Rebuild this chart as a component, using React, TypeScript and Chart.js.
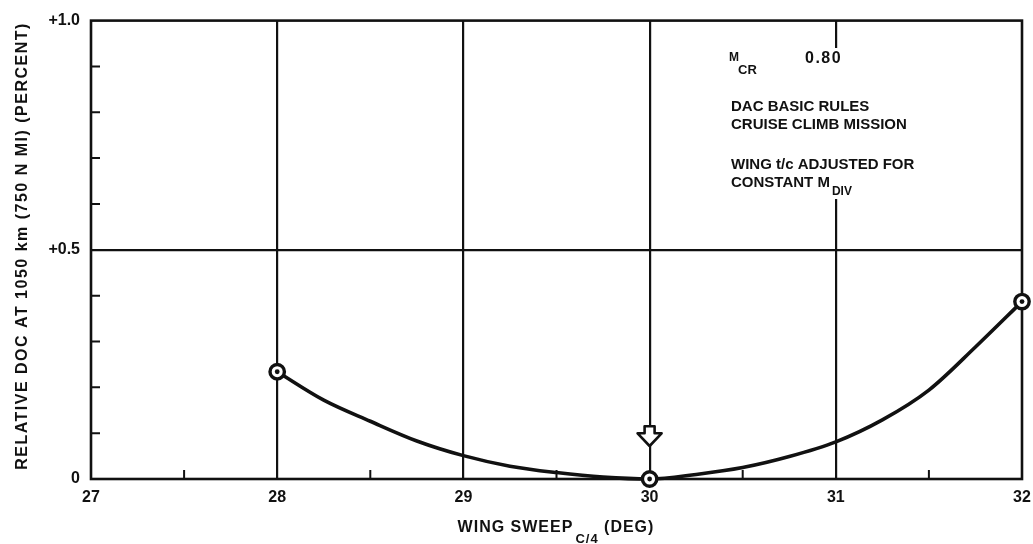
import React, { useEffect, useRef } from "react";
import { Chart, registerables } from "chart.js";

Chart.register(...registerables);

// Relative DOC curve versus quarter-chord wing sweep
const sweepDeg = [28, 28.25, 28.5, 28.75, 29, 29.25, 29.5, 29.75, 30, 30.25, 30.5, 30.75, 31, 31.25, 31.5, 31.75, 32];
const relativeDoc = [0.234, 0.172, 0.126, 0.083, 0.051, 0.028, 0.014, 0.004, 0, 0.01, 0.025, 0.049, 0.081, 0.129, 0.194, 0.288, 0.387];

// Computed design points (circled symbols)
const pointSweep = [28, 30, 32];
const pointDoc = [0.234, 0, 0.387];

// Optimum sweep indicator
const optimumSweep = 30;
const arrowTopDoc = 0.115;
const arrowTipDoc = 0.072;

// Axes
const xMin = 27;
const xMax = 32;
const xMinorTicks = [27.5, 28.5, 29.5, 30.5, 31.5];
const yMin = 0;
const yMax = 1;
const yLabelled: [number, string][] = [
  [0, "0"],
  [0.5, "+0.5"],
  [1, "+1.0"],
];
const yMinorTicks = [0.1, 0.2, 0.3, 0.4, 0.6, 0.7, 0.8, 0.9];

const yTitle = "RELATIVE DOC AT 1050 km (750 N MI) (PERCENT)";
const xTitleMain = "WING SWEEP";
const xTitleSub = "C/4";
const xTitleTail = " (DEG)";

const machLabel = "M";
const machSub = "CR";
const machValue = "0.80";
const noteLines = ["DAC BASIC RULES", "CRUISE CLIMB MISSION", "WING t/c ADJUSTED FOR"];
const noteLast = "CONSTANT M";
const noteLastSub = "DIV";

const FONT = "'Liberation Sans', Arial, Helvetica, sans-serif";
const INK = "#111";

const near = (a: number, b: number) => Math.abs(a - b) < 1e-6;

const decorations = {
  id: "decorations",
  beforeDatasetsDraw(chart: any) {
    const { ctx, chartArea: a, scales } = chart;
    const xs = scales.x;
    const ys = scales.y;
    ctx.save();
    // break in the 31-deg grid line behind the notes
    ctx.fillStyle = "#fff";
    ctx.fillRect(726, 48, 180, 151);

    ctx.strokeStyle = INK;
    ctx.lineWidth = 2;
    ctx.beginPath();
    for (const v of xMinorTicks) {
      const px = xs.getPixelForValue(v);
      ctx.moveTo(px, a.bottom);
      ctx.lineTo(px, a.bottom - 9);
    }
    for (const v of yMinorTicks) {
      const py = ys.getPixelForValue(v);
      ctx.moveTo(a.left, py);
      ctx.lineTo(a.left + 9, py);
    }
    ctx.stroke();

    ctx.lineWidth = 2.6;
    ctx.strokeRect(a.left, a.top, a.right - a.left, a.bottom - a.top);
    ctx.restore();
  },
  afterDraw(chart: any) {
    const { ctx, scales } = chart;
    const xs = scales.x;
    const ys = scales.y;
    ctx.save();
    ctx.fillStyle = INK;
    ctx.strokeStyle = INK;

    // optimum arrow
    const ax = xs.getPixelForValue(optimumSweep);
    const top = ys.getPixelForValue(arrowTopDoc);
    const tip = ys.getPixelForValue(arrowTipDoc);
    const shoulder = top + 7;
    ctx.beginPath();
    ctx.moveTo(ax - 5, top);
    ctx.lineTo(ax + 5, top);
    ctx.lineTo(ax + 5, shoulder);
    ctx.lineTo(ax + 12, shoulder);
    ctx.lineTo(ax, tip);
    ctx.lineTo(ax - 12, shoulder);
    ctx.lineTo(ax - 5, shoulder);
    ctx.closePath();
    ctx.fillStyle = "#fff";
    ctx.fill();
    ctx.lineWidth = 2.6;
    ctx.lineJoin = "round";
    ctx.stroke();
    ctx.fillStyle = INK;

    ctx.textBaseline = "middle";
    ctx.textAlign = "left";

    // notes
    ctx.font = `bold 12px ${FONT}`;
    ctx.fillText(machLabel, 729, 58);
    ctx.font = `bold 13px ${FONT}`;
    ctx.fillText(machSub, 738, 70);
    ctx.font = `bold 16px ${FONT}`;
    ctx.letterSpacing = "1.5px";
    ctx.fillText(machValue, 805, 59);
    ctx.letterSpacing = "0px";
    ctx.font = `bold 15px ${FONT}`;

    const noteY = [107, 125, 165];
    noteLines.forEach((t, i) => ctx.fillText(t, 731, noteY[i]));
    ctx.fillText(noteLast, 731, 183);
    const w = ctx.measureText(noteLast).width;
    ctx.font = `bold 12px ${FONT}`;
    ctx.fillText(noteLastSub, 731 + w + 2, 192);

    // x axis title with subscript
    ctx.letterSpacing = "1px";
    ctx.font = `bold 16px ${FONT}`;
    const wMain = ctx.measureText(xTitleMain).width;
    const wTail = ctx.measureText(xTitleTail).width;
    ctx.font = `bold 13px ${FONT}`;
    const wSub = ctx.measureText(xTitleSub).width;
    const total = wMain + 2 + wSub + wTail;
    let tx = 556 - total / 2;
    ctx.font = `bold 16px ${FONT}`;
    ctx.fillText(xTitleMain, tx, 528);
    tx += wMain + 2;
    ctx.font = `bold 13px ${FONT}`;
    ctx.fillText(xTitleSub, tx, 539);
    tx += wSub;
    ctx.font = `bold 16px ${FONT}`;
    ctx.fillText(xTitleTail, tx, 528);

    // y axis title
    ctx.letterSpacing = "1.5px";
    ctx.translate(23, 246);
    ctx.rotate(-Math.PI / 2);
    ctx.textAlign = "center";
    ctx.font = `bold 16px ${FONT}`;
    ctx.fillText(yTitle, 0, 0);
    ctx.letterSpacing = "0px";
    ctx.restore();
  },
};

export default function App() {
  const canvasRef = useRef<HTMLCanvasElement | null>(null);

  useEffect(() => {
    if (!canvasRef.current) return;
    const chart = new Chart(canvasRef.current, {
      type: "line",
      data: {
        datasets: [
          {
            label: "centre dots",
            data: pointSweep.map((x, i) => ({ x, y: pointDoc[i] })),
            showLine: false,
            clip: false,
            pointRadius: 2.4,
            pointBackgroundColor: INK,
            pointBorderWidth: 0,
          },
          {
            label: "design points",
            data: pointSweep.map((x, i) => ({ x, y: pointDoc[i] })),
            showLine: false,
            clip: false,
            pointRadius: 7.2,
            pointBackgroundColor: "#fff",
            pointBorderColor: INK,
            pointBorderWidth: 3.4,
          },
          {
            label: "relative DOC",
            data: sweepDeg.map((x, i) => ({ x, y: relativeDoc[i] })),
            borderColor: INK,
            borderWidth: 3.6,
            pointRadius: 0,
            clip: false,
            cubicInterpolationMode: "monotone",
            fill: false,
          },
        ],
      },
      options: {
        animation: false,
        responsive: true,
        maintainAspectRatio: false,
        devicePixelRatio: 1,
        layout: { padding: { top: 20, right: 11, left: 0, bottom: 0 } },
        plugins: { legend: { display: false }, tooltip: { enabled: false } },
        scales: {
          x: {
            type: "linear",
            min: xMin,
            max: xMax,
            afterFit: (s: any) => {
              s.height = 65;
              s.paddingLeft = 0;
              s.paddingRight = 0;
            },
            ticks: {
              stepSize: 1,
              padding: 9,
              color: INK,
              font: { family: FONT, size: 16, weight: "bold" },
              callback: (v: any) => String(v),
            },
            grid: {
              drawTicks: false,
              lineWidth: 2.2,
              color: (c: any) => {
                const v = c.tick?.value;
                return v === undefined || near(v, xMin) || near(v, xMax) ? "rgba(0,0,0,0)" : INK;
              },
            },
            border: { display: false },
          },
          y: {
            type: "linear",
            min: yMin,
            max: yMax,
            afterFit: (s: any) => {
              s.width = 91;
            },
            ticks: {
              stepSize: 0.1,
              padding: 11,
              color: INK,
              autoSkip: false,
              font: { family: FONT, size: 16, weight: "bold" },
              callback: (v: any) => {
                const hit = yLabelled.find(([val]) => near(val, Number(v)));
                return hit ? hit[1] : "";
              },
            },
            grid: {
              drawTicks: false,
              lineWidth: 2.2,
              color: (c: any) => (c.tick && near(c.tick.value, 0.5) ? INK : "rgba(0,0,0,0)"),
            },
            border: { display: false },
          },
        },
      },
      plugins: [decorations],
    });
    return () => chart.destroy();
  }, []);

  return (
    <div style={{ position: "absolute", left: 0, top: 0, width: 1033, height: 544, background: "#fff" }}>
      <canvas ref={canvasRef} />
    </div>
  );
}
